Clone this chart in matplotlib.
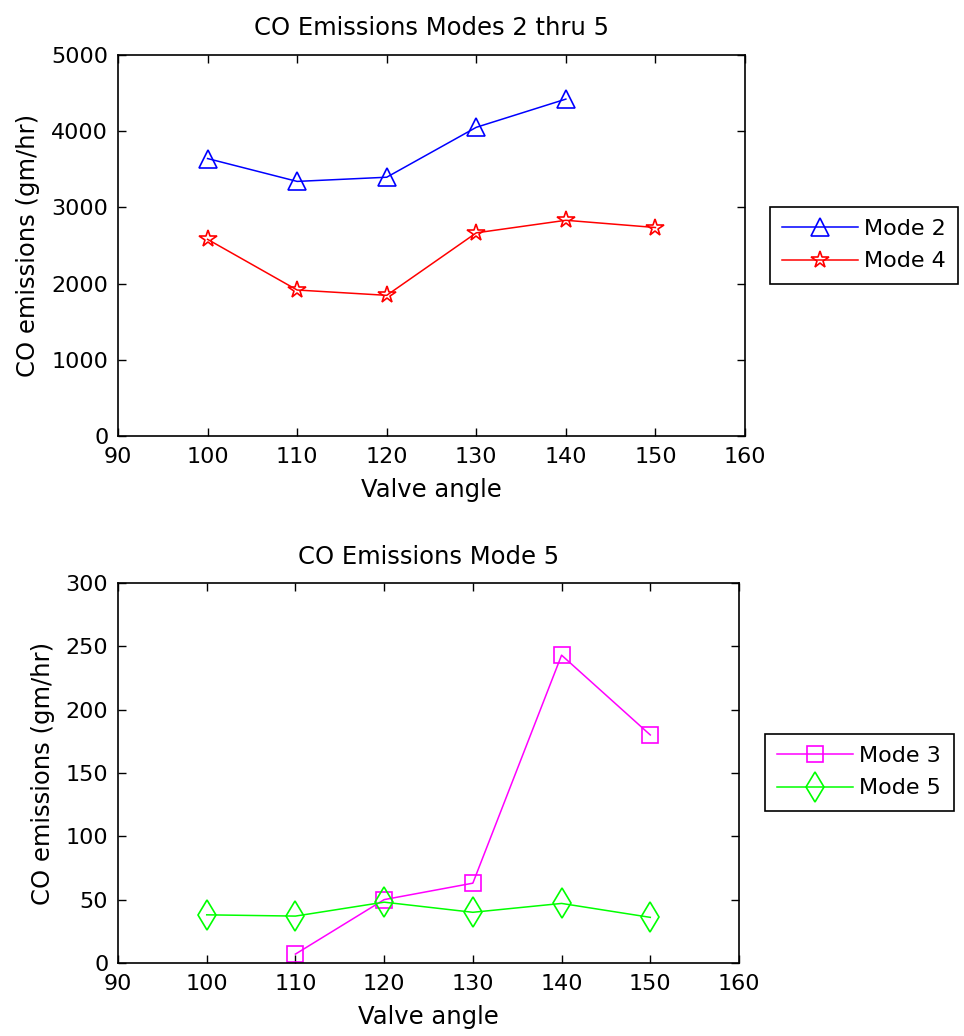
import matplotlib.pyplot as plt

# valve angles and measured CO emissions (gm/hr)
angles = [100, 110, 120, 130, 140, 150]
mode2 = [3640, 3340, 3395, 4050, 4420]
mode4 = [2580, 1915, 1845, 2665, 2830, 2735]
mode3 = [7, 50, 63, 243, 180]
mode5 = [38, 37, 48, 40, 47, 36]

plt.rcParams['font.family'] = ['DejaVu Sans']
plt.rcParams['font.size'] = 16


def style_axes(ax, ymax, ystep):
    ax.set_xlim(90, 160)
    ax.set_ylim(0, ymax)
    ax.set_xticks(range(90, 161, 10))
    ax.set_yticks(range(0, ymax + 1, ystep))
    ax.tick_params(direction='in', length=6, width=1, top=True, right=True,
                   labelsize=16)
    ax.tick_params(axis='x', pad=8)
    ax.tick_params(axis='y', pad=7)
    for s in ax.spines.values():
        s.set_linewidth(1.2)
    ax.set_xlabel('Valve angle', fontsize=17.5, labelpad=8)
    ax.set_ylabel('CO emissions (gm/hr)', fontsize=17.5, labelpad=8)


def add_legend(ax, x, y):
    leg = ax.legend(loc='upper left', bbox_to_anchor=(x / 964, 1 - y / 1036),
                    bbox_transform=fig.transFigure, borderaxespad=0,
                    fancybox=False, edgecolor='black', framealpha=1,
                    handlelength=3.4, fontsize=16, borderpad=0.55,
                    labelspacing=0.55, handletextpad=0.3)
    leg.get_frame().set_linewidth(1.2)
    return leg


fig = plt.figure(figsize=(9.64, 10.36), dpi=100)

# top panel: modes 2 and 4
ax1 = fig.add_axes([0.1224, 0.5792, 0.6504, 0.3678])
ax1.plot(angles[:5], mode2, color='#0000ff', lw=1.1, marker='^', ms=13,
         mfc='none', mec='#0000ff', mew=1.2, label='Mode 2')
ax1.plot(angles, mode4, color='#ff0000', lw=1.1, marker='*', ms=13,
         mfc='none', mec='#ff0000', mew=1.2, label='Mode 4')
style_axes(ax1, 5000, 1000)
ax1.set_title('CO Emissions Modes 2 thru 5', fontsize=17.5, pad=14)
add_legend(ax1, 770, 207)

# bottom panel: modes 3 and 5
ax2 = fig.add_axes([0.1224, 0.0705, 0.6442, 0.3668])
ax2.plot(angles[1:], mode3, color='#ff00ff', lw=1.1, marker='s', ms=12,
         mfc='none', mec='#ff00ff', mew=1.2, label='Mode 3')
ax2.plot(angles, mode5, color='#00ff00', lw=1.1, marker='d', ms=15,
         mfc='none', mec='#00ff00', mew=1.2, label='Mode 5')
style_axes(ax2, 300, 50)
ax2.set_title('CO Emissions Mode 5', fontsize=17.5, pad=14)
add_legend(ax2, 765, 734)

fig.savefig('out.png', dpi=100)
